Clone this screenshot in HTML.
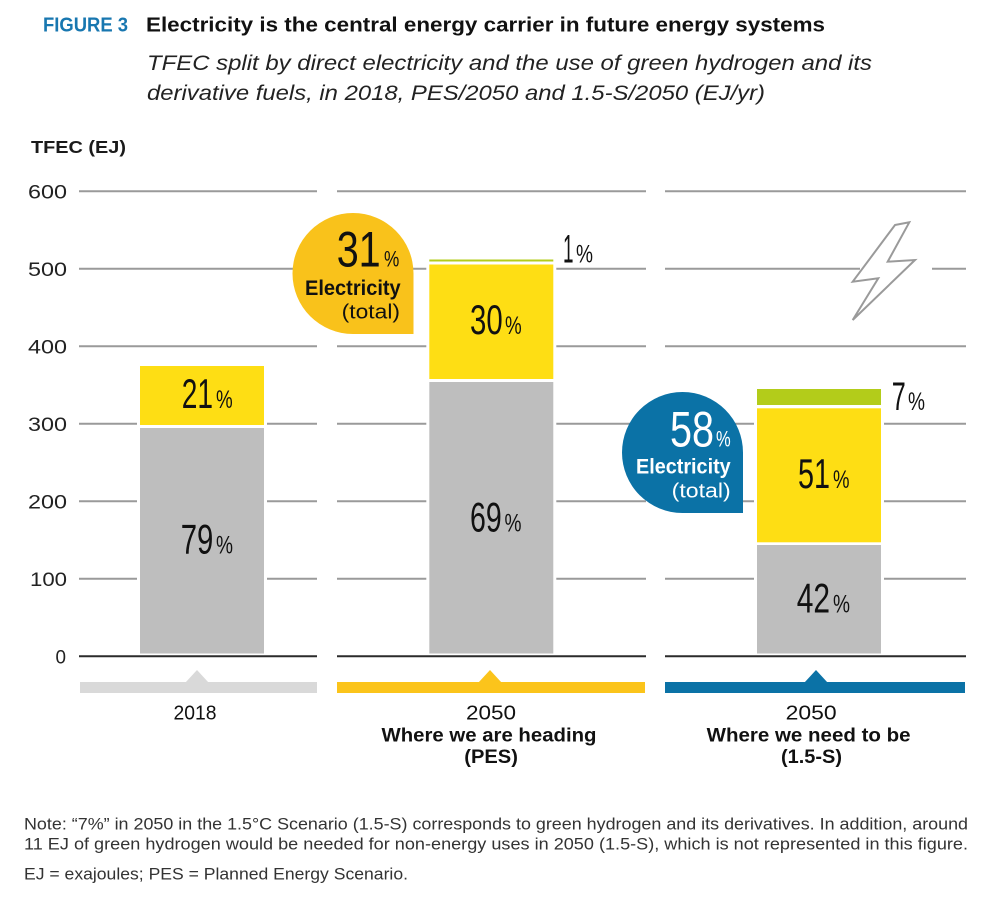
<!DOCTYPE html>
<html>
<head>
<meta charset="utf-8">
<style>
  html,body{margin:0;padding:0;background:#fff;}
  svg{display:block;}
  .s{font-family:"Liberation Sans",sans-serif;}
  .c{font-family:"Liberation Sans Narrow","Liberation Sans",sans-serif;}
</style>
</head>
<body>
<svg width="1000" height="908" viewBox="0 0 1000 908" xmlns="http://www.w3.org/2000/svg">
  <rect x="0" y="0" width="1000" height="908" fill="#fff"/>

  <!-- Title -->
  <text class="s" x="43" y="31.5" font-size="20" font-weight="bold" fill="#1877b0" textLength="85" lengthAdjust="spacingAndGlyphs">FIGURE 3</text>
  <text class="s" x="146" y="31.5" font-size="20" font-weight="bold" fill="#111" textLength="679" lengthAdjust="spacingAndGlyphs">Electricity is the central energy carrier in future energy systems</text>
  <text class="s" x="147" y="70" font-size="21.5" font-style="italic" fill="#222" textLength="725" lengthAdjust="spacingAndGlyphs">TFEC split by direct electricity and the use of green hydrogen and its</text>
  <text class="s" x="147" y="100" font-size="21.5" font-style="italic" fill="#222" textLength="618" lengthAdjust="spacingAndGlyphs">derivative fuels, in 2018, PES/2050 and 1.5-S/2050 (EJ/yr)</text>

  <!-- Axis title -->
  <text class="s" x="31" y="153" font-size="17.5" font-weight="bold" fill="#1a1a1a" textLength="95" lengthAdjust="spacingAndGlyphs">TFEC (EJ)</text>

  <!-- Y labels -->
  <g class="s" font-size="19" fill="#222">
    <text x="28" y="198.3" textLength="39" lengthAdjust="spacingAndGlyphs">600</text>
    <text x="28" y="275.8" textLength="39" lengthAdjust="spacingAndGlyphs">500</text>
    <text x="28" y="353.3" textLength="39" lengthAdjust="spacingAndGlyphs">400</text>
    <text x="28" y="430.8" textLength="39" lengthAdjust="spacingAndGlyphs">300</text>
    <text x="28" y="508.3" textLength="39" lengthAdjust="spacingAndGlyphs">200</text>
    <text x="30" y="585.8" textLength="37" lengthAdjust="spacingAndGlyphs">100</text>
    <text x="55.5" y="663.3" textLength="10.5" lengthAdjust="spacingAndGlyphs">0</text>
  </g>

  <!-- Gridlines -->
  <g stroke="#9a9a9a" stroke-width="2">
    <line x1="79" y1="191.3" x2="317" y2="191.3"/>
    <line x1="337" y1="191.3" x2="646" y2="191.3"/>
    <line x1="665" y1="191.3" x2="966" y2="191.3"/>

    <line x1="79" y1="268.8" x2="317" y2="268.8"/>
    <line x1="337" y1="268.8" x2="646" y2="268.8"/>
    <line x1="665" y1="268.8" x2="860" y2="268.8"/>
    <line x1="932" y1="268.8" x2="966" y2="268.8"/>

    <line x1="79" y1="346.3" x2="317" y2="346.3"/>
    <line x1="337" y1="346.3" x2="646" y2="346.3"/>
    <line x1="665" y1="346.3" x2="966" y2="346.3"/>

    <line x1="79" y1="423.8" x2="317" y2="423.8"/>
    <line x1="337" y1="423.8" x2="646" y2="423.8"/>
    <line x1="665" y1="423.8" x2="966" y2="423.8"/>

    <line x1="79" y1="501.3" x2="317" y2="501.3"/>
    <line x1="337" y1="501.3" x2="646" y2="501.3"/>
    <line x1="665" y1="501.3" x2="966" y2="501.3"/>

    <line x1="79" y1="578.8" x2="317" y2="578.8"/>
    <line x1="337" y1="578.8" x2="646" y2="578.8"/>
    <line x1="665" y1="578.8" x2="966" y2="578.8"/>
  </g>

  <!-- White halos behind bars -->
  <rect x="137" y="363" width="130" height="292" fill="#fff"/>
  <rect x="426.3" y="256.5" width="130" height="398" fill="#fff"/>
  <rect x="754" y="386" width="130" height="269" fill="#fff"/>

  <!-- Bar 1 (2018) -->
  <rect x="140" y="366" width="124" height="59" fill="#fede14"/>
  <rect x="140" y="428" width="124" height="225.5" fill="#bebebe"/>

  <!-- Bar 2 (PES) -->
  <rect x="429.3" y="259.5" width="124" height="2" fill="#b3cc1a"/>
  <rect x="429.3" y="264.5" width="124" height="114.5" fill="#fede14"/>
  <rect x="429.3" y="382" width="124" height="271.5" fill="#bebebe"/>

  <!-- Bar 3 (1.5-S) -->
  <rect x="757" y="389" width="124" height="16" fill="#b3cc1a"/>
  <rect x="757" y="408.3" width="124" height="134" fill="#fede14"/>
  <rect x="757" y="545" width="124" height="108.5" fill="#bebebe"/>

  <!-- Axis line -->
  <g stroke="#2b2b2b" stroke-width="2">
    <line x1="79" y1="656.3" x2="317" y2="656.3"/>
    <line x1="337" y1="656.3" x2="646" y2="656.3"/>
    <line x1="665" y1="656.3" x2="966" y2="656.3"/>
  </g>

  <!-- Bar percentage labels -->
  <g class="c" fill="#111">
    <text x="181.7" y="408" font-size="42" textLength="31.3" lengthAdjust="spacingAndGlyphs">21</text>
    <text x="216" y="408" font-size="25" textLength="16.7" lengthAdjust="spacingAndGlyphs">%</text>

    <text x="180.7" y="553.3" font-size="42" textLength="32.6" lengthAdjust="spacingAndGlyphs">79</text>
    <text x="216" y="553.3" font-size="25" textLength="17" lengthAdjust="spacingAndGlyphs">%</text>

    <text x="470" y="334" font-size="42" textLength="32.7" lengthAdjust="spacingAndGlyphs">30</text>
    <text x="505" y="334" font-size="25" textLength="16.7" lengthAdjust="spacingAndGlyphs">%</text>

    <text x="470" y="531.7" font-size="42" textLength="31.7" lengthAdjust="spacingAndGlyphs">69</text>
    <text x="504.5" y="531.7" font-size="25" textLength="17" lengthAdjust="spacingAndGlyphs">%</text>

    <text x="798" y="488" font-size="42" textLength="32" lengthAdjust="spacingAndGlyphs">51</text>
    <text x="833" y="488" font-size="25" textLength="16.5" lengthAdjust="spacingAndGlyphs">%</text>

    <text x="796.7" y="612.7" font-size="42" textLength="33.3" lengthAdjust="spacingAndGlyphs">42</text>
    <text x="833" y="612.7" font-size="25" textLength="17" lengthAdjust="spacingAndGlyphs">%</text>

    <text x="563" y="262.7" font-size="40" textLength="10.5" lengthAdjust="spacingAndGlyphs">1</text>
    <text x="576" y="262.7" font-size="25" textLength="17" lengthAdjust="spacingAndGlyphs">%</text>

    <text x="891.7" y="410" font-size="40" textLength="14" lengthAdjust="spacingAndGlyphs">7</text>
    <text x="908" y="410" font-size="25" textLength="17" lengthAdjust="spacingAndGlyphs">%</text>
  </g>

  <!-- Left bubble (yellow) -->
  <path d="M413.5 334 L353 334 A60.5 60.5 0 0 1 292.5 273.5 A60.5 60.5 0 0 1 353 213 A60.5 60.5 0 0 1 413.5 273.5 Z" fill="#f9c21b"/>
  <text class="c" x="336.7" y="266.7" font-size="50" fill="#111" textLength="44" lengthAdjust="spacingAndGlyphs">31</text>
  <text class="c" x="384" y="266.7" font-size="22" fill="#111" textLength="15.3" lengthAdjust="spacingAndGlyphs">%</text>
  <text class="s" x="305" y="295" font-size="21" font-weight="bold" fill="#111" textLength="95.7" lengthAdjust="spacingAndGlyphs">Electricity</text>
  <text class="s" x="341.7" y="318.5" font-size="20" fill="#111" textLength="58.3" lengthAdjust="spacingAndGlyphs">(total)</text>

  <!-- Right bubble (blue) -->
  <path d="M743 513 L682.5 513 A60.5 60.5 0 0 1 622 452.5 A60.5 60.5 0 0 1 682.5 392 A60.5 60.5 0 0 1 743 452.5 Z" fill="#0b72a6"/>
  <text class="c" x="670" y="446.7" font-size="50" fill="#fff" textLength="44" lengthAdjust="spacingAndGlyphs">58</text>
  <text class="c" x="716" y="446.7" font-size="22" fill="#fff" textLength="14.7" lengthAdjust="spacingAndGlyphs">%</text>
  <text class="s" x="636" y="473.3" font-size="21" font-weight="bold" fill="#fff" textLength="94.7" lengthAdjust="spacingAndGlyphs">Electricity</text>
  <text class="s" x="671.7" y="497.3" font-size="20" fill="#fff" textLength="59" lengthAdjust="spacingAndGlyphs">(total)</text>

  <!-- Lightning bolt -->
  <polygon points="895,225 909.3,222.3 887.7,261.7 915,260 852.7,320 878.3,278.3 852.7,281.7" fill="#fff" stroke="#9a9a9a" stroke-width="2" stroke-linejoin="miter"/>

  <!-- Category markers -->
  <rect x="80" y="682" width="237" height="11" fill="#d9d9d9"/>
  <polygon points="185.5,682.5 197,670 208.5,682.5" fill="#d9d9d9"/>
  <rect x="337" y="682" width="308" height="11" fill="#fbc41b"/>
  <polygon points="478.5,682.5 490,670 501.5,682.5" fill="#fbc41b"/>
  <rect x="665" y="682" width="300" height="11" fill="#0b72a6"/>
  <polygon points="804.5,682.5 816,670 827.5,682.5" fill="#0b72a6"/>

  <!-- Category labels -->
  <g class="s" fill="#111">
    <text x="173.5" y="719.3" font-size="20" textLength="43" lengthAdjust="spacingAndGlyphs">2018</text>
    <text x="466" y="719.3" font-size="20" textLength="50" lengthAdjust="spacingAndGlyphs">2050</text>
    <text x="381.5" y="741.7" font-size="19" font-weight="bold" textLength="215" lengthAdjust="spacingAndGlyphs">Where we are heading</text>
    <text x="464.3" y="763" font-size="19" font-weight="bold" textLength="53.6" lengthAdjust="spacingAndGlyphs">(PES)</text>
    <text x="785.7" y="719.3" font-size="20" textLength="51" lengthAdjust="spacingAndGlyphs">2050</text>
    <text x="706.6" y="741.7" font-size="19" font-weight="bold" textLength="204" lengthAdjust="spacingAndGlyphs">Where we need to be</text>
    <text x="781" y="763" font-size="19" font-weight="bold" textLength="61" lengthAdjust="spacingAndGlyphs">(1.5-S)</text>
  </g>

  <!-- Notes -->
  <g class="s" fill="#333" font-size="16.5">
    <text x="24" y="829.5" textLength="944" lengthAdjust="spacingAndGlyphs">Note: “7%” in 2050 in the 1.5°C Scenario (1.5-S) corresponds to green hydrogen and its derivatives. In addition, around</text>
    <text x="24" y="849.5" textLength="944" lengthAdjust="spacingAndGlyphs">11 EJ of green hydrogen would be needed for non-energy uses in 2050 (1.5-S), which is not represented in this figure.</text>
    <text x="24" y="879.5" textLength="384" lengthAdjust="spacingAndGlyphs">EJ = exajoules; PES = Planned Energy Scenario.</text>
  </g>
</svg>
</body>
</html>
